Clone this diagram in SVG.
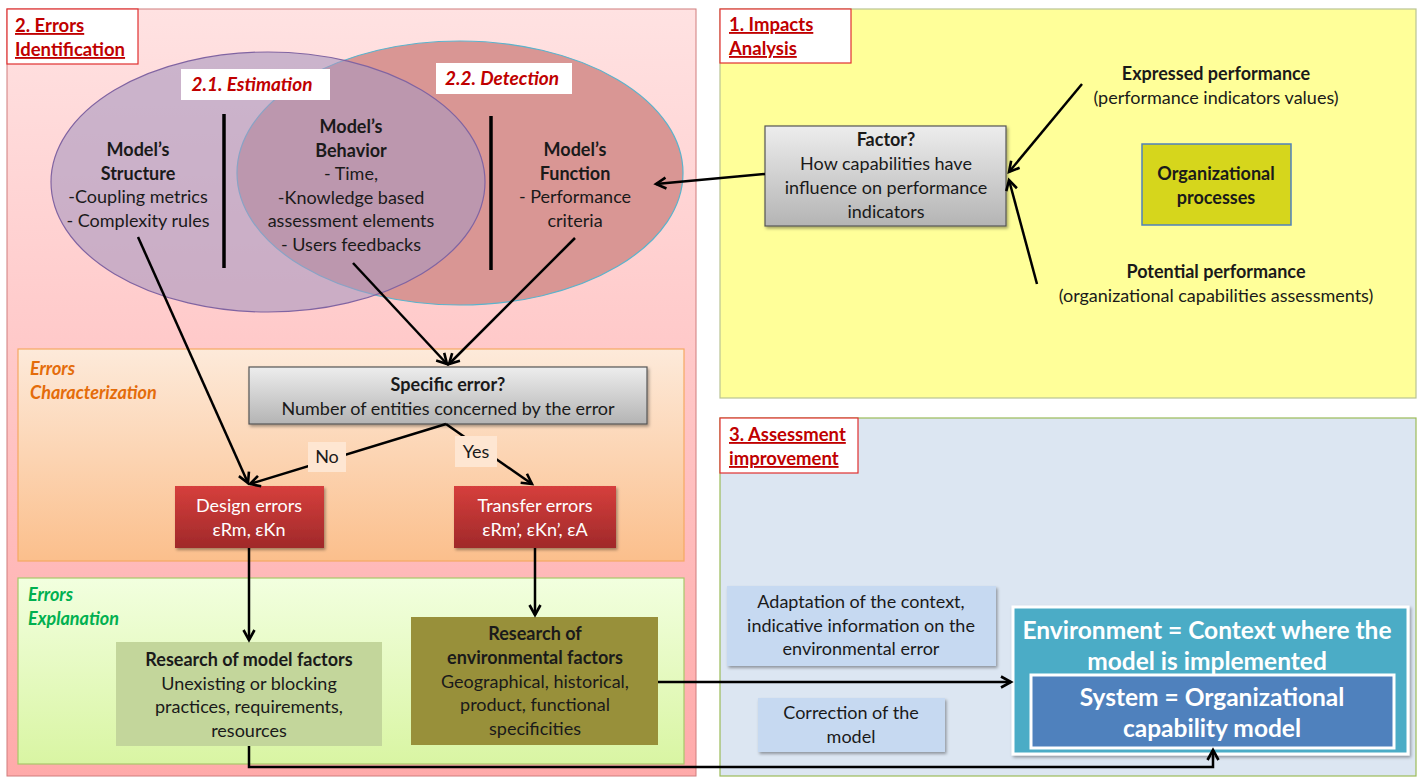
<svg xmlns="http://www.w3.org/2000/svg" width="1421" height="778" viewBox="0 0 1421 778">
<style>
text{font-family:Lato,"Open Sans","Liberation Sans",sans-serif;fill:#1a1a1a;font-size:18px}
.c{text-anchor:middle}
.b{font-weight:bold}
.title{font-weight:bold;fill:#C00000;font-size:18.5px;text-decoration:underline}
.sub{font-weight:bold;font-style:italic;fill:#C00000;font-size:19px;text-anchor:middle}
.w{fill:#fff}
.big{font-size:24.5px;font-weight:bold;fill:#fff;text-anchor:middle}
.conn line,.conn path{stroke:#000;stroke-width:2.5;fill:none}
.bar{stroke:#000;stroke-width:3.5}
.tbox{fill:#fff;stroke:#E03030;stroke-width:1.2}
</style>
<defs>
<marker id="ah" markerUnits="userSpaceOnUse" markerWidth="16" markerHeight="16" refX="13" refY="8" orient="auto">
<path d="M3,2.5 L13,8 L3,13.5" fill="none" stroke="#000" stroke-width="2.6"/>
</marker>
<linearGradient id="gPink" x1="0" y1="0" x2="0" y2="1"><stop offset="0" stop-color="#FFE2E2"/><stop offset="1" stop-color="#FFAAAA"/></linearGradient>
<linearGradient id="gOrange" x1="0" y1="0" x2="0" y2="1"><stop offset="0" stop-color="#FDEADA"/><stop offset="1" stop-color="#FBBF8C"/></linearGradient>
<linearGradient id="gGreen" x1="0" y1="0" x2="0" y2="1"><stop offset="0" stop-color="#F2FFDF"/><stop offset="1" stop-color="#D9F5A3"/></linearGradient>
<linearGradient id="gGray" x1="0" y1="0" x2="0" y2="1"><stop offset="0" stop-color="#EDEDED"/><stop offset="1" stop-color="#B4B4B4"/></linearGradient>
<linearGradient id="gRed" x1="0" y1="0" x2="0" y2="1"><stop offset="0" stop-color="#D63F3C"/><stop offset="1" stop-color="#A0292A"/></linearGradient>
<filter id="sh" x="-10%" y="-10%" width="125%" height="130%"><feDropShadow dx="1.5" dy="2" stdDeviation="1.5" flood-color="#000" flood-opacity="0.35"/></filter>
</defs>

<g id="panel-errors-identification">
<rect x="7" y="9" width="689" height="767" fill="url(#gPink)" stroke="#D07C7C" stroke-width="1"/>
<rect class="tbox" x="7" y="9" width="131" height="55"/>
<text class="title" x="15" y="32">2. Errors</text>
<text class="title" x="15" y="56">Identification</text>
</g>

<g id="panel-impacts">
<rect x="720" y="9" width="696" height="389" fill="#FFFF99" stroke="#B9C394" stroke-width="1.2"/>
<rect class="tbox" x="720" y="9" width="131" height="54"/>
<text class="title" x="729" y="31">1. Impacts</text>
<text class="title" x="729" y="55">Analysis</text>
</g>

<g id="panel-assessment">
<rect x="720" y="418" width="696" height="358" fill="#DCE6F2" stroke="#9BBB59" stroke-width="1.2"/>
<rect class="tbox" x="720" y="418" width="138" height="55"/>
<text class="title" x="729" y="441">3. Assessment</text>
<text class="title" x="729" y="465">improvement</text>
</g>

<g id="ellipse-detection">
<ellipse cx="460" cy="173" rx="223" ry="132" fill="#D99694" stroke="#5BB3CC" stroke-width="1.2"/>
</g>
<g id="ellipse-estimation">
<ellipse cx="268" cy="182" rx="217" ry="130" fill="#A898C0" fill-opacity="0.6" stroke="#8064A2" stroke-width="1.2"/>
</g>

<g id="label-estimation">
<rect x="181" y="69" width="149" height="31" fill="#fff"/>
<text class="sub" x="252" y="91">2.1. Estimation</text>
</g>
<g id="label-detection">
<rect x="436" y="63" width="136" height="31" fill="#fff"/>
<text class="sub" x="502" y="85">2.2. Detection</text>
</g>

<g id="separators">
<line class="bar" x1="224" y1="114" x2="224" y2="268"/>
<line class="bar" x1="491" y1="116" x2="491" y2="270"/>
</g>

<g id="model-structure">
<text class="c b" x="138" y="156">Model’s</text>
<text class="c b" x="138" y="180">Structure</text>
<text class="c" x="138" y="203">-Coupling metrics</text>
<text class="c" x="138" y="227">- Complexity rules</text>
</g>

<g id="model-behavior">
<text class="c b" x="351" y="133">Model’s</text>
<text class="c b" x="351" y="157">Behavior</text>
<text class="c" x="351" y="180">- Time,</text>
<text class="c" x="351" y="204">-Knowledge based</text>
<text class="c" x="351" y="227">assessment elements</text>
<text class="c" x="351" y="251">- Users feedbacks</text>
</g>

<g id="model-function">
<text class="c b" x="575" y="156">Model’s</text>
<text class="c b" x="575" y="180">Function</text>
<text class="c" x="575" y="203">- Performance</text>
<text class="c" x="575" y="227">criteria</text>
</g>

<g id="panel-characterization">
<rect x="18" y="349" width="666" height="212" fill="url(#gOrange)" stroke="#F5A862" stroke-width="1.2"/>
<text x="30" y="375" style="font-weight:bold;font-style:italic;fill:#E46C0A">Errors</text>
<text x="30" y="399" style="font-weight:bold;font-style:italic;fill:#E46C0A">Characterization</text>
</g>

<g id="panel-explanation">
<rect x="18" y="578" width="666" height="186" fill="url(#gGreen)" stroke="#A9C76A" stroke-width="1.2"/>
<text x="28" y="601" style="font-weight:bold;font-style:italic;fill:#00B050">Errors</text>
<text x="28" y="625" style="font-weight:bold;font-style:italic;fill:#00B050">Explanation</text>
</g>

<g id="factor">
<rect x="765" y="126" width="241" height="100" fill="url(#gGray)" stroke="#555" stroke-width="1.2" filter="url(#sh)"/>
<text class="c b" x="886" y="146">Factor?</text>
<text class="c" x="886" y="170">How capabilities have</text>
<text class="c" x="886" y="194">influence on performance</text>
<text class="c" x="886" y="218">indicators</text>
</g>

<g id="expressed-performance">
<text class="c b" x="1216" y="80">Expressed performance</text>
<text class="c" x="1216" y="104">(performance indicators values)</text>
</g>

<g id="organizational-processes">
<rect x="1142" y="144" width="149" height="81" fill="#D6D61C" stroke="#4F81BD" stroke-width="1.5"/>
<text class="c b" x="1216" y="180">Organizational</text>
<text class="c b" x="1216" y="204">processes</text>
</g>

<g id="potential-performance">
<text class="c b" x="1216" y="278">Potential performance</text>
<text class="c" x="1216" y="302">(organizational capabilities assessments)</text>
</g>

<g id="specific-error">
<rect x="249" y="367" width="398" height="57" fill="url(#gGray)" stroke="#555" stroke-width="1.2" filter="url(#sh)"/>
<text class="c b" x="448" y="391">Specific error?</text>
<text class="c" x="448" y="415">Number of entities concerned by the error</text>
</g>

<g id="design-errors">
<rect x="175" y="486" width="149" height="62" fill="url(#gRed)" filter="url(#sh)"/>
<text class="c w" x="249" y="512">Design errors</text>
<text class="c w" x="249" y="536">εRm, εKn</text>
</g>

<g id="transfer-errors">
<rect x="454" y="486" width="162" height="62" fill="url(#gRed)" filter="url(#sh)"/>
<text class="c w" x="535" y="512">Transfer errors</text>
<text class="c w" x="535" y="536">εRm’, εKn’, εA</text>
</g>

<g id="research-model-factors">
<rect x="116" y="642" width="266" height="104" fill="#C3D69B"/>
<text class="c b" x="249" y="666">Research of model factors</text>
<text class="c" x="249" y="690">Unexisting or blocking</text>
<text class="c" x="249" y="713">practices, requirements,</text>
<text class="c" x="249" y="737">resources</text>
</g>

<g id="research-environmental-factors">
<rect x="411" y="617" width="247" height="128" fill="#98903A"/>
<text class="c b" x="535" y="640">Research of</text>
<text class="c b" x="535" y="664">environmental factors</text>
<text class="c" x="535" y="688">Geographical, historical,</text>
<text class="c" x="535" y="711">product, functional</text>
<text class="c" x="535" y="735">specificities</text>
</g>

<g id="adaptation">
<rect x="727" y="586" width="269" height="80" fill="#C6D9F1" filter="url(#sh)"/>
<text class="c" x="861" y="608">Adaptation of the context,</text>
<text class="c" x="861" y="632">indicative information on the</text>
<text class="c" x="861" y="655">environmental error</text>
</g>

<g id="correction">
<rect x="758" y="698" width="187" height="54" fill="#C6D9F1" filter="url(#sh)"/>
<text class="c" x="851" y="719">Correction of the</text>
<text class="c" x="851" y="743">model</text>
</g>

<g id="environment">
<rect x="1013" y="607" width="395" height="147" fill="#4BACC6" stroke="#fff" stroke-width="3" filter="url(#sh)"/>
<text class="big" x="1207" y="639">Environment = Context where the</text>
<text class="big" x="1207" y="670">model is implemented</text>
</g>

<g id="system">
<rect x="1031" y="675" width="363" height="73" fill="#4F81BD" stroke="#fff" stroke-width="3"/>
<text class="big" x="1212" y="706">System = Organizational</text>
<text class="big" x="1212" y="737">capability model</text>
</g>

<g class="conn" id="connectors">
<line x1="765" y1="174" x2="656" y2="184" marker-end="url(#ah)"/>
<line x1="1082" y1="84" x2="1009" y2="172" marker-end="url(#ah)"/>
<line x1="1037" y1="284" x2="1009" y2="180" marker-end="url(#ah)"/>
<line x1="138" y1="237" x2="248" y2="483" marker-end="url(#ah)"/>
<line x1="353" y1="263" x2="447" y2="364" marker-end="url(#ah)"/>
<line x1="575" y1="238" x2="449" y2="364" marker-end="url(#ah)"/>
<line x1="446" y1="424" x2="250" y2="484" marker-end="url(#ah)"/>
<line x1="446" y1="424" x2="532" y2="484" marker-end="url(#ah)"/>
<line x1="249" y1="548" x2="249" y2="640" marker-end="url(#ah)"/>
<line x1="535" y1="548" x2="535" y2="615" marker-end="url(#ah)"/>
<line x1="658" y1="682" x2="1011" y2="682" marker-end="url(#ah)"/>
<path d="M249,746 V767 H1213 V750" marker-end="url(#ah)"/>
</g>

<g id="label-no">
<rect x="308" y="442" width="38" height="30" fill="#FEE6D2"/>
<text class="c" x="327" y="463">No</text>
</g>
<g id="label-yes">
<rect x="455" y="436" width="42" height="31" fill="#FEE6D2"/>
<text class="c" x="476" y="458">Yes</text>
</g>
</svg>
